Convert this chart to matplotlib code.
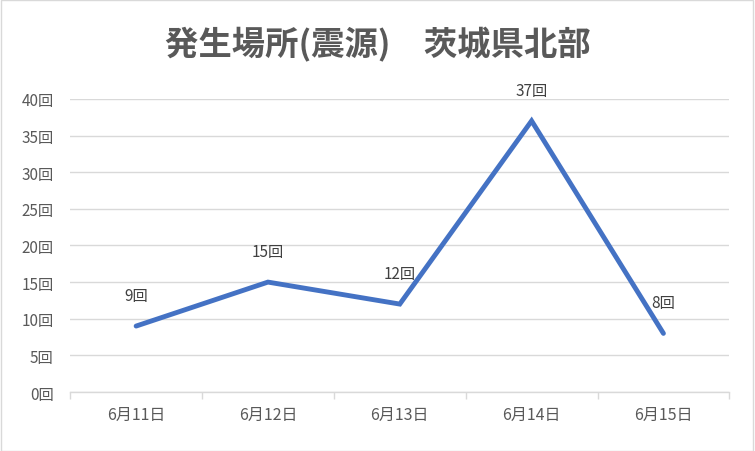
import matplotlib
matplotlib.use("Agg")
import matplotlib.pyplot as plt
from matplotlib.patches import Rectangle

plt.rcParams['font.family'] = ['Noto Sans CJK JP', 'DejaVu Sans']

title = "発生場所(震源)　茨城県北部"
categories = ["6月11日", "6月12日", "6月13日", "6月14日", "6月15日"]
values = [9, 15, 12, 37, 8]
yticks = [0, 5, 10, 15, 20, 25, 30, 35, 40]
ytick_labels = [f"{v}回" for v in yticks]
data_labels = [f"{v}回" for v in values]

fig = plt.figure(figsize=(7.55, 4.52), dpi=100)
fig.patches.append(Rectangle((0.001, 0.001), 0.997, 0.996, transform=fig.transFigure,
                             fill=False, edgecolor="#D9D9D9", linewidth=1.0))
ax = fig.add_axes([0.093, 0.1305, 0.873, 0.6485])

x = list(range(len(categories)))
ax.plot(x, values, color="#4472C4", linewidth=3.5, solid_capstyle="round", solid_joinstyle="miter", zorder=3)
for xi, v, lab in zip(x, values, data_labels):
    ax.annotate(lab, (xi, v), xytext=(0, 22), textcoords="offset points",
                ha="center", va="center", fontsize=11, color="#404040")

ax.set_xlim(-0.5, len(categories) - 0.5)
ax.set_ylim(0, 40)
ax.set_yticks(yticks)
ax.set_yticklabels(ytick_labels, fontsize=11, color="#595959")
ax.yaxis.grid(True, color="#D9D9D9", linewidth=1.0)
ax.set_axisbelow(True)
ax.tick_params(axis="y", length=0, pad=12)

ax.set_xticks(x)
ax.set_xticklabels(categories, fontsize=11.5, color="#595959")
ax.set_xticks([i - 0.5 for i in range(len(categories) + 1)], minor=True)
ax.tick_params(axis="x", which="major", length=0, pad=10)
ax.tick_params(axis="x", which="minor", length=5, color="#D9D9D9", width=1.0)

for s in ["top", "right", "left"]:
    ax.spines[s].set_visible(False)
ax.spines["bottom"].set_color("#D9D9D9")
ax.spines["bottom"].set_linewidth(1.0)

fig.text(0.5, 0.902, title, ha="center", va="center", fontsize=24,
         fontweight="bold", color="#595959")

fig.savefig("out.png", dpi=100)
